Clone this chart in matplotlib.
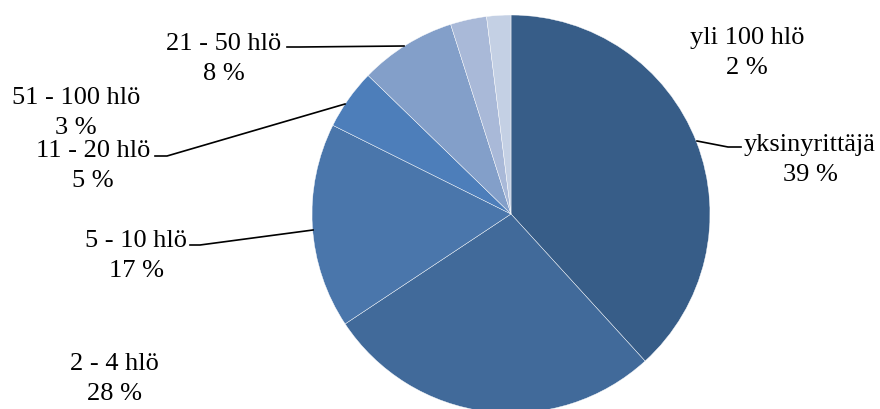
import matplotlib.pyplot as plt

# data
labels = ["yksinyrittäjä", "2 - 4 hlö", "5 - 10 hlö", "11 - 20 hlö",
          "21 - 50 hlö", "51 - 100 hlö", "yli 100 hlö"]
shares = [39, 28, 17, 5, 8, 3, 2]
colors = ["#375d88", "#416a9a", "#4a76ab", "#4d7eba",
          "#839fc9", "#a9b9d8", "#c4d0e4"]

# label placement in pixel coords (x, y from top)
label_pos = [(810, 160), (114, 379), (136, 256), (93, 166),
             (224, 59), (76, 113), (747, 53)]
leaders = {
    0: [(741, 147), (728, 147), (697, 141)],
    2: [(190, 245), (200, 245), (313, 230)],
    3: [(155, 156), (167, 156), (345, 104)],
    4: [(287, 47), (300, 47), (404, 46)],
}

W, H = 880, 409
fig = plt.figure(figsize=(8.8, 4.09), dpi=100)
ax = fig.add_axes([0, 0, 1, 1])

ax.pie(shares, colors=colors, startangle=90, counterclock=False,
       center=(511, H - 214), radius=199,
       wedgeprops=dict(edgecolor="white", linewidth=0.3))

for i, (lab, val) in enumerate(zip(labels, shares)):
    x, y = label_pos[i]
    ax.text(x, H - y, f"{lab}\n{val} %", ha="center", va="center",
            family="Liberation Serif", fontsize=19, linespacing=1.42)

for pts in leaders.values():
    ax.plot([p[0] for p in pts], [H - p[1] for p in pts], color="black", lw=1.2)

ax.set_xlim(0, W)
ax.set_ylim(0, H)
ax.set_aspect("equal")
ax.axis("off")

fig.savefig("out.png", dpi=100)
